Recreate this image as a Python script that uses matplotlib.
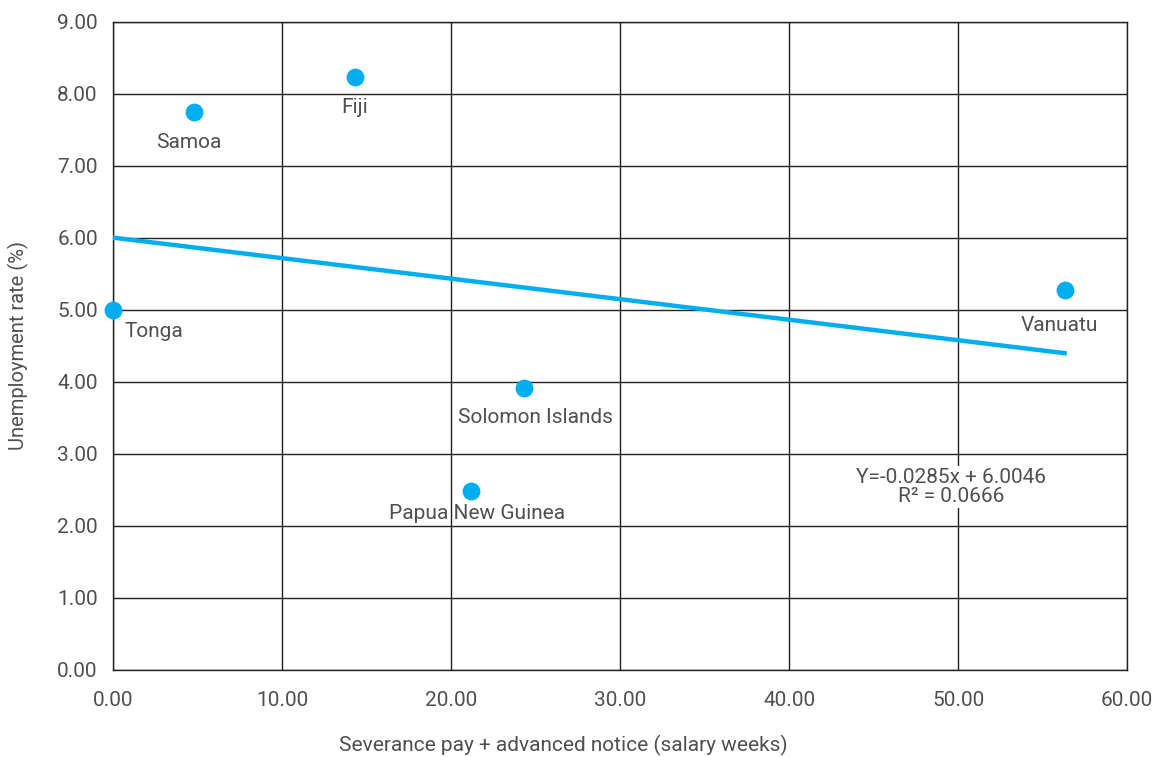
import numpy as np
import matplotlib
matplotlib.use('Agg')
import matplotlib.pyplot as plt

plt.rcParams['font.family'] = ['Roboto', 'DejaVu Sans']

countries = ['Tonga', 'Samoa', 'Fiji', 'Solomon Islands', 'Papua New Guinea', 'Vanuatu']
severance = [0.0, 4.8, 14.3, 24.3, 21.2, 56.3]
unemployment = [5.0, 7.75, 8.24, 3.92, 2.49, 5.28]
label_offsets = [(0.7, -0.3), (-0.3, -0.43), (0.0, -0.43), (0.7, -0.41), (0.35, -0.32), (-0.3, -0.5)]

slope, intercept = -0.0285, 6.0046
grey = '#505050'
blue = '#00aeef'

fig = plt.figure(figsize=(11.57, 7.57), dpi=100)
ax = fig.add_axes([0.0977, 0.115, 0.8765, 0.856])

ax.grid(True, color='#222222', linewidth=1.0)
ax.set_axisbelow(True)

xs = np.array([0.0, max(severance)])
ax.plot(xs, intercept + slope * xs, color=blue, linewidth=3.2, zorder=3)
ax.scatter(severance, unemployment, s=140, color=blue, zorder=4, clip_on=False)

for name, x, y, (dx, dy) in zip(countries, severance, unemployment, label_offsets):
    ha = 'left' if name == 'Tonga' else 'center'
    ax.text(x + dx, y + dy, name, ha=ha, va='center', fontsize=15, color=grey, zorder=5)

ax.text(49.6, 2.54, 'Y=-0.0285x + 6.0046\nR\u00b2 = 0.0666', ha='center', va='center',
        fontsize=15, color=grey, linespacing=1.05, zorder=5,
        bbox=dict(facecolor='white', edgecolor='none', pad=1))

ax.set_xlim(0, 60)
ax.set_ylim(0, 9)
ax.set_xticks(np.arange(0, 61, 10))
ax.set_yticks(np.arange(0, 9.1, 1))
ax.set_xticklabels(['%.2f' % v for v in np.arange(0, 61, 10)])
ax.set_yticklabels(['%.2f' % v for v in np.arange(0, 9.1, 1)])
ax.tick_params(axis='x', length=0, labelsize=15, colors=grey, pad=15)
ax.tick_params(axis='y', length=0, labelsize=15, colors=grey, pad=11)
for sp in ax.spines.values():
    sp.set_color('#222222')
    sp.set_linewidth(1.0)

ax.set_xlabel('Severance pay + advanced notice (salary weeks)', fontsize=15, color=grey)
ax.xaxis.set_label_coords(0.444, -0.1)
ax.set_ylabel('Unemployment rate (%)', fontsize=14.5, color=grey)
ax.yaxis.set_label_coords(-0.083, 0.5)

fig.savefig('out.png', dpi=100)
